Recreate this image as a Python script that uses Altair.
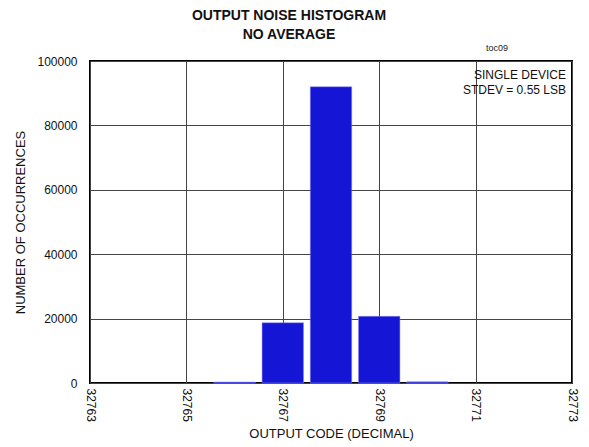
import altair as alt
import pandas as pd

codes = [32766, 32767, 32768, 32769, 32770]
counts = [300, 18700, 92000, 20700, 350]
x_ticks = [32763, 32765, 32767, 32769, 32771, 32773]
y_ticks = [0, 20000, 40000, 60000, 80000, 100000]

df = pd.DataFrame({"code": codes, "count": counts})

FONT = "Liberation Sans"

bars = alt.Chart(df).transform_calculate(
    x0="datum.code - 0.43", x1="datum.code + 0.43"
).mark_bar(color="#1515d5", stroke="#8a8af0", strokeWidth=0.5).encode(
    x=alt.X("x0:Q", scale=alt.Scale(domain=[32763, 32773], nice=False, zero=False),
            axis=alt.Axis(values=x_ticks, labelAngle=90, format="d", title="OUTPUT CODE (DECIMAL)",
                          titlePadding=6, labelPadding=5)),
    x2="x1:Q",
    y=alt.Y("count:Q", scale=alt.Scale(domain=[0, 100000], nice=False),
            axis=alt.Axis(values=y_ticks, format="d", title="NUMBER OF OCCURRENCES",
                          titlePadding=9, labelPadding=13)),
    y2=alt.datum(0),
)

ann = pd.DataFrame({"t": ["SINGLE DEVICE", "STDEV = 0.55 LSB"], "yy": [14, 29]})
notes = alt.Chart(ann).mark_text(align="right", baseline="middle", font=FONT, fontSize=12, color="#111").encode(
    x=alt.value(476), y=alt.Y("yy:Q", scale=None), text="t:N"
)

toc = alt.Chart(pd.DataFrame({"t": ["toc09"]})).mark_text(
    align="right", baseline="middle", font=FONT, fontSize=9, color="#222"
).encode(x=alt.value(418), y=alt.value(-13), text="t:N")

chart = alt.layer(bars, notes, toc).properties(
    width=482, height=322,
    autosize=alt.AutoSizeParams(type="none"),
    padding={"left": 82, "top": 53, "right": 9, "bottom": 62},
    title=alt.TitleParams(["OUTPUT NOISE HISTOGRAM", "NO AVERAGE"], font=FONT, fontSize=14,
                          fontWeight="bold", anchor="middle", dx=-42, offset=2, lineHeight=19, color="#111"),
).configure_view(stroke="black", strokeWidth=2).configure_axis(
    labelFont=FONT, titleFont=FONT, labelFontSize=12, titleFontSize=13, titleFontWeight="normal",
    labelColor="#111", titleColor="#111", gridColor="#444", gridWidth=1, domain=False,
    tickSize=0, gridOpacity=1
)

chart.save("out.html", embed_options={"renderer": "svg", "actions": False})
